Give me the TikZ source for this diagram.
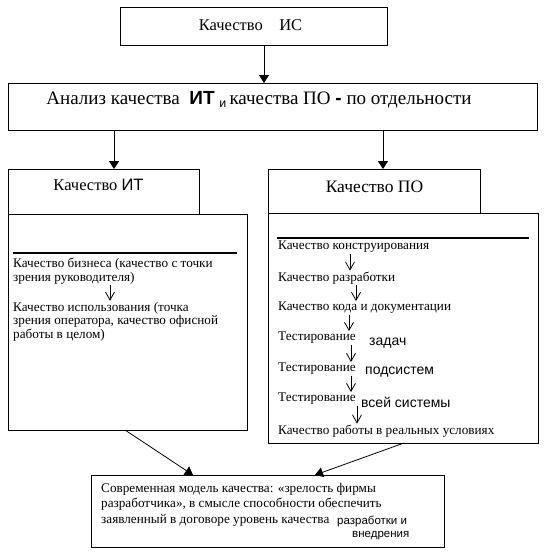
\documentclass[tikz,border=0pt]{standalone}
\usepackage{fontspec}
\setmainfont{Liberation Serif}
\newfontfamily\arialfont{Liberation Sans}
\usetikzlibrary{arrows.meta, positioning}

\begin{document}
\begin{tikzpicture}[x=1pt, y=-1pt,
  box/.style={draw, line width=1pt, inner sep=0pt, outer sep=0pt},
  head/.style={font=\fontsize{16.5}{18}\selectfont, inner sep=1pt},
  item/.style={font=\fontsize{13.2}{14}\selectfont, anchor=west, inner sep=1pt, align=left},
  word/.style={font=\arialfont\fontsize{14}{15}\selectfont, anchor=west, inner sep=1pt},
  smallword/.style={font=\arialfont\fontsize{11.5}{12}\selectfont, anchor=west, inner sep=1pt},
  bigarrow/.style={-{Triangle[length=8pt, width=10pt]}, line width=1pt},
  smallarrow/.style={-{Straight Barb[length=8pt, width=9pt]}, line width=0.8pt}]
\useasboundingbox (0,0) rectangle (544,554);
% boxes
\node[box, minimum width=267pt, minimum height=38pt] (isbox) at (253.5,26.5) {};
\node[box, minimum width=529pt, minimum height=47pt] (anbox) at (272.5,106.5) {};
\node[box, minimum width=191pt, minimum height=45pt] (ithead) at (103.5,191.5) {};
\node[box, minimum width=239pt, minimum height=216pt] (itbody) at (127.5,322) {};
\node[box, minimum width=212pt, minimum height=44pt] (pohead) at (374,191) {};
\node[box, minimum width=270pt, minimum height=230pt] (pobody) at (403,328) {};
\node[box, minimum width=353pt, minimum height=72pt] (model) at (267.5,511) {};
% titles
\node[head] (is) at (250.5,25) {Качество\quad ИС};
\node[head, font=\fontsize{19}{20}\selectfont] (an) at (259,100) {Анализ качества\ \ \textbf{\arialfont ИТ}\ \raisebox{-3pt}{\arialfont\fontsize{12.5}{12}\selectfont и}\,качества ПО \textbf{\arialfont -} по отдельности};
\node[head] (it) at (98.5,185) {Качество {\arialfont ИТ}};
\node[head, font=\fontsize{17.5}{19}\selectfont] (po) at (374.5,187) {Качество ПО};
% left column
\draw[line width=2pt] (13,253) -- (237,253);
\node[item] (b1) at (12,264) {Качество бизнеса (качество с точки};
\node[item] (b2) at (12,278) {зрения руководителя)};
\node[item] (u1) at (12,308) {Качество использования (точка};
\node[item] (u2) at (12,321) {зрения оператора, качество офисной};
\node[item] (u3) at (12,335) {работы в целом)};
\draw[smallarrow] (110,0 |- b2.south) -- (110,0 |- u1.north);
% right column
\draw[line width=2pt] (277,238) -- (529,238);
\node[item] (k1) at (277,247) {Качество конструирования};
\node[item] (k2) at (277,278) {Качество разработки};
\node[item] (k3) at (277,308) {Качество кода и документации};
\node[item] (k4) at (277,338) {Тестирование};
\node[word] (w4) at (368,343) {задач};
\node[item] (k5) at (277,369) {Тестирование};
\node[word] (w5) at (364,372) {подсистем};
\node[item] (k6) at (277,399) {Тестирование};
\node[word] (w6) at (360,402) {всей системы};
\node[item] (k7) at (277,431) {Качество работы в реальных условиях};
\draw[smallarrow] (350,0 |- k1.south) -- (350,0 |- k2.north);
\draw[smallarrow] (356,0 |- k2.south) -- (356,0 |- k3.north);
\draw[smallarrow] (349,0 |- k3.south) -- (349,0 |- k4.north);
\draw[smallarrow] (351,0 |- k4.south) -- (351,0 |- k5.north);
\draw[smallarrow] (351,0 |- k5.south) -- (351,0 |- k6.north);
\draw[smallarrow] (357,0 |- k6.south) -- (357,0 |- k7.north);
% bottom
\node[item] (m1) at (100,489) {Современная модель качества: «зрелость фирмы};
\node[item] (m2) at (100,504) {разработчика», в смысле способности обеспечить};
\node[item] (m3) at (100,520) {заявленный в договоре уровень качества};
\node[smallword] (w7) at (336,521) {разработки и};
\node[smallword] (w8) at (351,536) {внедрения};
% arrows
\draw[bigarrow] (isbox.south -| 264,0) -- (anbox.north -| 264,0);
\draw[bigarrow] (anbox.south -| 114,0) -- (ithead.north -| 114,0);
\draw[bigarrow] (anbox.south -| 383,0) -- (pohead.north -| 383,0);
\draw[bigarrow, line width=0.8pt] (itbody.south -| 125,0) -- (model.north -| 193,0);
\draw[bigarrow, line width=0.8pt] (pobody.south -| 404,0) -- (model.north -| 315,0);
\end{tikzpicture}
\end{document}
